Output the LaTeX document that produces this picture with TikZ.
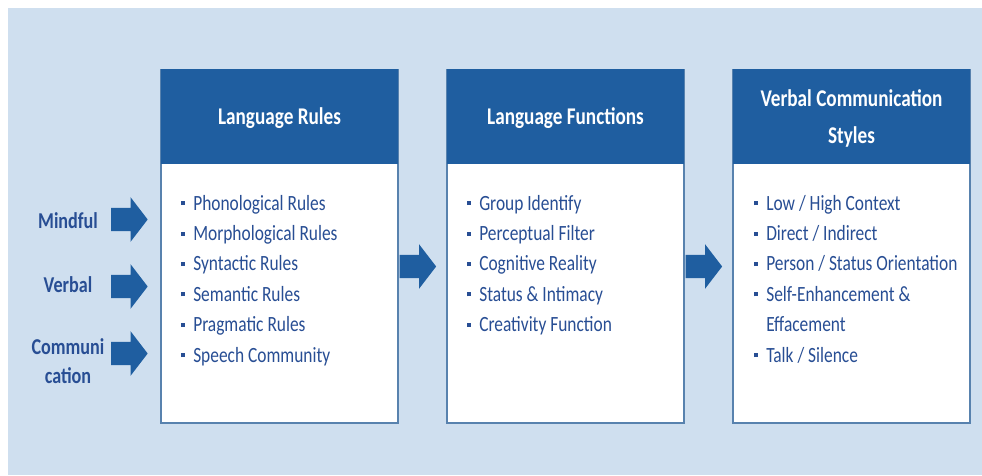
\documentclass[tikz,border=0pt]{standalone}
\usepackage{fontspec}
\setmainfont{Carlito}[FakeStretch=0.8]
\usepackage{tikz}
\usetikzlibrary{positioning,shapes.arrows}

\definecolor{bgblue}{RGB}{207,223,239}
\definecolor{headblue}{RGB}{31,94,160}
\definecolor{rimblue}{RGB}{88,130,174}
\definecolor{txtblue}{RGB}{40,78,148}

\newcommand{\bul}{\makebox[10.5pt][l]{\hspace{1pt}\raisebox{0.22em}{\rule{3pt}{3pt}}}}

\begin{document}
\begin{tikzpicture}[x=0.75pt,y=-0.75pt]
    \tikzset{box/.style = {shape=rectangle, draw=rimblue, fill=white, line width=2pt, minimum width=177.75pt, minimum height=264.75pt, inner sep=0pt}}
    \tikzset{boxhead/.style = {shape=rectangle, fill=headblue, minimum width=177.75pt, minimum height=71.25pt, anchor=north, align=center, text=white, text depth=0pt, font=\fontsize{18}{27.5}\selectfont\bfseries, inner sep=0pt}}
    \tikzset{item/.style = {anchor=base west, inner sep=0pt, text=txtblue, font=\fontsize{16.3}{20}\selectfont}}
    \tikzset{side/.style = {align=center, text=txtblue, font=\fontsize{17}{21.75}\selectfont\bfseries}}
    \tikzset{blockarrow/.style = {shape=single arrow, fill=headblue, inner xsep=0pt, inner ysep=8.6pt, minimum height=27.4pt, single arrow head extend=7.9pt, single arrow tip angle=105}}

    \useasboundingbox (0,0) rectangle (982,475);
    \fill[bgblue] (8,8) rectangle (982,475);

    % the three panels
    \node[box] (R) at (279.5,246.5) {};
    \node[box] (F) at (565.5,246.5) {};
    \node[box] (S) at (851.5,246.5) {};
    \node[boxhead] (RH) at (R.north) {Language Rules};
    \node[boxhead] (FH) at (F.north) {Language Functions};
    \node[boxhead] (SH) at (S.north) {Verbal Communication\\Styles};

    % left inputs
    \node[side] (M) at (68,221) {Mindful};
    \node[side] (V) at (68,285) {Verbal};
    \node[side] (C) at (68,361.5) {Communi\\cation};
    \node[blockarrow, anchor=tip] (AM) at (148,219.5) {};
    \node[blockarrow, anchor=tip] (AV) at (148,286.5) {};
    \node[blockarrow, anchor=tip] (AC) at (148,353.5) {};

    % arrows between panels
    \node[blockarrow, anchor=tail] (ARF) at ([yshift=-15pt]R.east) {};
    \node[blockarrow, anchor=tail] (AFS) at ([yshift=-15pt]F.east) {};

    \node[item] (R1) at (179,210) {\bul Phonological Rules};
    \node[item] (R2) at (179,240.4) {\bul Morphological Rules};
    \node[item] (R3) at (179,270.8) {\bul Syntactic Rules};
    \node[item] (R4) at (179,301.2) {\bul Semantic Rules};
    \node[item] (R5) at (179,331.6) {\bul Pragmatic Rules};
    \node[item] (R6) at (179,362) {\bul Speech Community};

    \node[item] (F1) at (465,210) {\bul Group Identify};
    \node[item] (F2) at (465,240.4) {\bul Perceptual Filter};
    \node[item] (F3) at (465,270.8) {\bul Cognitive Reality};
    \node[item] (F4) at (465,301.2) {\bul Status \& Intimacy};
    \node[item] (F5) at (465,331.6) {\bul Creativity Function};

    \node[item] (S1) at (752,210) {\bul Low / High Context};
    \node[item] (S2) at (752,240.4) {\bul Direct / Indirect};
    \node[item] (S3) at (752,270.8) {\bul Person / Status Orientation};
    \node[item] (S4) at (752,301.2) {\bul Self-Enhancement \&};
    \node[item] (S5) at (752,331.6) {\makebox[10.5pt]{}Effacement};
    \node[item] (S6) at (752,362) {\bul Talk / Silence};
\end{tikzpicture}
\end{document}
